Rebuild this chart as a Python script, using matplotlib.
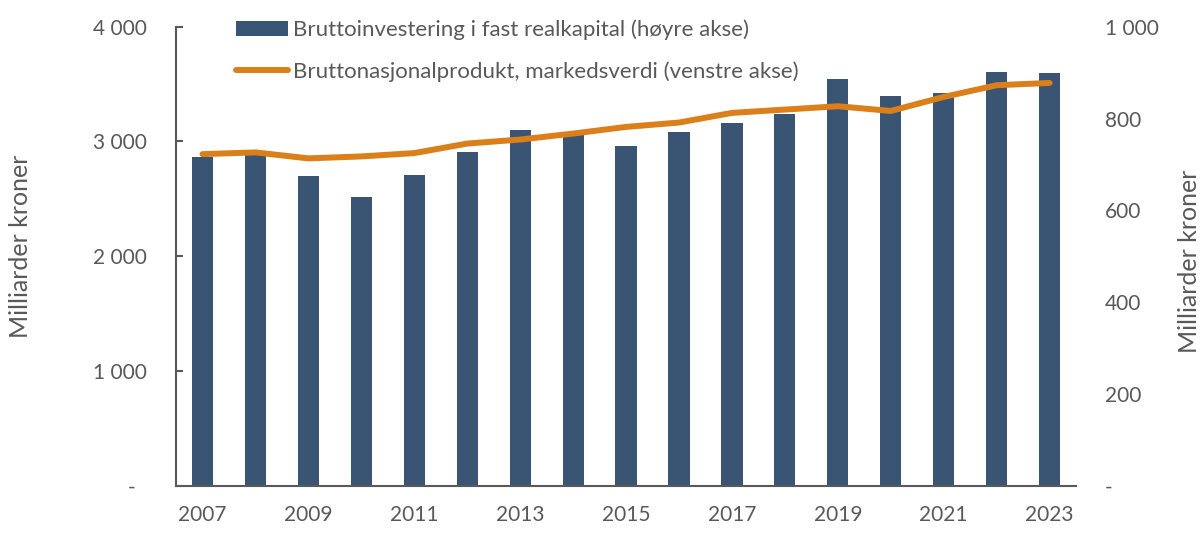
import matplotlib
matplotlib.use("Agg")
import matplotlib.pyplot as plt
from matplotlib.ticker import FuncFormatter, MultipleLocator

# -------------------------
# Data
# -------------------------
years = list(range(2007, 2024))
# Bruttoinvestering i fast realkapital, mrd. kr (right axis)
investment = [716, 727, 674, 630, 678, 728, 774, 766, 741, 770,
              791, 809, 886, 850, 855, 901, 900]
# Bruttonasjonalprodukt, markedsverdi, mrd. kr (left axis)
gdp = [2890, 2905, 2853, 2870, 2899, 2982, 3017, 3069, 3127, 3165,
       3249, 3278, 3307, 3266, 3388, 3490, 3510]
xtick_years = years[::2]

bar_label = "Bruttoinvestering i fast realkapital (høyre akse)"
line_label = "Bruttonasjonalprodukt, markedsverdi (venstre akse)"

# -------------------------
# Style
# -------------------------
grey = "#595959"
bar_col = "#3A5573"
line_col = "#DA7F1A"
plt.rcParams["font.family"] = ["Lato", "DejaVu Sans"]
plt.rcParams["font.size"] = 15


def fmt_left(v, pos):
    if abs(v) < 1e-9:
        return "-  "
    return f"{int(round(v)):,}".replace(",", " ")


def fmt_right(v, pos):
    if abs(v) < 1e-9:
        return "-"
    return f"{int(round(v)):,}".replace(",", " ")


fig = plt.figure(figsize=(12, 5.44), dpi=100)
ax = fig.add_axes([0.1467, 0.1066, 0.75, 0.8444])
ax2 = ax.twinx()

x = list(range(len(years)))

# bars on right axis (behind), line on left axis (front)
bars = ax2.bar(x, investment, width=0.4, color=bar_col, label=bar_label)
line, = ax.plot(x, gdp, color=line_col, lw=4.3, solid_capstyle="round",
                label=line_label)
ax.set_zorder(ax2.get_zorder() + 1)
ax.patch.set_visible(False)

ax.set_xlim(-0.5, len(years) - 0.5)
ax.set_ylim(0, 4000)
ax2.set_ylim(0, 1000)
ax.yaxis.set_major_locator(MultipleLocator(1000))
ax2.yaxis.set_major_locator(MultipleLocator(200))
ax.yaxis.set_major_formatter(FuncFormatter(fmt_left))
ax2.yaxis.set_major_formatter(FuncFormatter(fmt_right))

ax.set_xticks([years.index(y) for y in xtick_years])
ax.set_xticklabels([str(y) for y in xtick_years])

for a in (ax, ax2):
    for s in ("top", "right", "left"):
        a.spines[s].set_visible(False)
ax.spines["left"].set_visible(True)
ax.spines["left"].set_color(grey)
ax.spines["left"].set_linewidth(1.5)
ax.spines["bottom"].set_color(grey)
ax.spines["bottom"].set_linewidth(1.5)
ax2.spines["bottom"].set_visible(False)

ax.tick_params(axis="y", direction="in", length=5, width=1.5, color=grey,
               labelcolor=grey, pad=21)
ax.tick_params(axis="x", length=0, labelcolor=grey, pad=14)
ax2.tick_params(axis="y", length=0, labelcolor=grey, pad=21)
for lbl in ax2.get_yticklabels():
    lbl.set_horizontalalignment("left")

ax.set_ylabel("Milliarder kroner", color=grey, fontsize=18)
ax.yaxis.set_label_coords(-0.16, 0.5225)
ax2.set_ylabel("Milliarder kroner", color=grey, fontsize=18)
ax2.yaxis.set_label_coords(1.113, 0.49)

leg = ax.legend([bars, line], [bar_label, line_label], loc="upper left",
                bbox_to_anchor=(0.0667, 1.015), frameon=False,
                handlelength=2.34, handleheight=0.6, handletextpad=0.22,
                labelspacing=0.93, labelcolor=grey, fontsize=16,
                borderaxespad=0, borderpad=0)

fig.savefig("out.png", dpi=100)
